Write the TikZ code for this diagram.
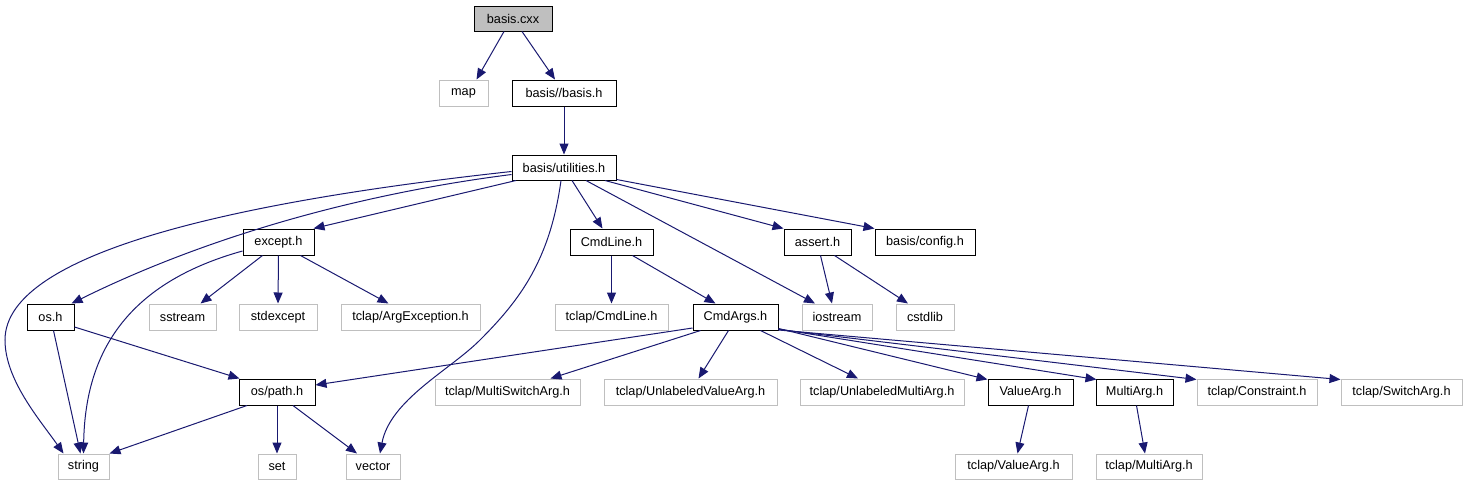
\documentclass[tikz,border=0pt]{standalone}
\usepackage{fontspec}
\setmainfont{Liberation Sans}
\usetikzlibrary{arrows.meta,calc}
\definecolor{edgeblue}{HTML}{191970}
\definecolor{sysgray}{HTML}{BFBFBF}
\begin{document}
\begin{tikzpicture}[x=1pt,y=-1pt,
  box/.style={draw=black,line width=1pt,inner sep=0pt,minimum height=26pt,
    font=\fontsize{12.7}{14}\selectfont},
  sys/.style={box,draw=sysgray},
  root/.style={box,fill=sysgray},
  e/.style={draw=edgeblue,line width=1pt,-{Triangle[length=11pt,width=9pt]}}]
\useasboundingbox (0,0) rectangle (1467,485);
% row 0
\node[root,minimum width=78pt,minimum height=25pt] (bc) at (513,18.5) {basis.cxx};
% row 1
\node[sys,minimum width=49pt] (map) at (463.5,93) {map};
\node[box,minimum width=104pt] (bb) at (564,93) {basis//basis.h};
% row 2
\node[box,minimum width=104pt,minimum height=25pt] (u) at (564,167.5) {basis/utilities.h};
% row 3
\node[box,minimum width=71pt] (exc) at (278.5,242) {except.h};
\node[box,minimum width=83pt] (cl) at (611.5,242) {CmdLine.h};
\node[box,minimum width=67pt] (as) at (817.5,242) {assert.h};
\node[box,minimum width=100pt] (cfg) at (925,242) {basis/config.h};
% row 4
\node[box,minimum width=47pt] (os) at (50.5,317) {os.h};
\node[sys,minimum width=67pt] (ss) at (182.5,317) {sstream};
\node[sys,minimum width=78pt] (se) at (278,317) {stdexcept};
\node[sys,minimum width=139pt] (ae) at (410.5,317) {tclap/ArgException.h};
\node[sys,minimum width=113pt] (tcl) at (611.5,317) {tclap/CmdLine.h};
\node[box,minimum width=85pt] (ca) at (735.5,317) {CmdArgs.h};
\node[sys,minimum width=70pt] (ios) at (837,317) {iostream};
\node[sys,minimum width=58pt] (cs) at (925,317) {cstdlib};
% row 5
\node[box,minimum width=76pt] (path) at (277,392) {os/path.h};
\node[sys,minimum width=145pt] (msa) at (507.5,392) {tclap/MultiSwitchArg.h};
\node[sys,minimum width=173pt] (uva) at (690.5,392) {tclap/UnlabeledValueArg.h};
\node[sys,minimum width=164pt] (uma) at (882,392) {tclap/UnlabeledMultiArg.h};
\node[box,minimum width=85pt] (va) at (1030.5,392) {ValueArg.h};
\node[box,minimum width=77pt] (ma) at (1134.5,392) {MultiArg.h};
\node[sys,minimum width=120pt] (con) at (1257,392) {tclap/Constraint.h};
\node[sys,minimum width=121pt] (swa) at (1401.5,392) {tclap/SwitchArg.h};
% row 6
\node[sys,minimum width=51pt,minimum height=25pt] (str) at (83.5,466.5) {string};
\node[sys,minimum width=38pt,minimum height=25pt] (set) at (277,466.5) {set};
\node[sys,minimum width=54pt,minimum height=25pt] (vec) at (373,466.5) {vector};
\node[sys,minimum width=117pt,minimum height=25pt] (tva) at (1013.5,466.5) {tclap/ValueArg.h};
\node[sys,minimum width=106pt,minimum height=25pt] (tma) at (1149,466.5) {tclap/MultiArg.h};
% edges
\draw[e] ($(bc.south)+(-9,0)$) -- ($(map.north)+(13,0)$);
\draw[e] ($(bc.south)+(9,0)$) -- ($(bb.north)+(-9,0)$);
\draw[e] (bb.south) -- (u.north);
\draw[e] ($(u.west)+(0,4)$) .. controls (250,200) and (5,250) .. (5,340)
  .. controls (5,380) and (40,420) .. ($(str.north)+(-20,0)$);
\draw[e] ($(u.west)+(0,7)$) .. controls (350,195) and (200,240) .. ($(os.north)+(21,0)$);
\draw[e] ($(u.south)+(-48,0)$) -- ($(exc.north east)+(-1,0)$);
\draw[e] ($(u.south)+(-3,0)$) .. controls (550,260) and (520,300) .. (480,340)
  .. controls (450,370) and (390,400) .. ($(vec.north)+(7,0)$);
\draw[e] ($(u.south)+(8,0)$) -- ($(cl.north)+(-9,0)$);
\draw[e] ($(u.south)+(22,0)$) -- ($(ios.north)+(-22,0)$);
\draw[e] ($(u.south)+(41,0)$) -- (as.north west);
\draw[e] ($(u.south east)+(0,-1)$) -- (cfg.north west);
\draw[e] ($(exc.west)+(0,9)$) .. controls (120,285) and (85,360) .. (str.north);
\draw[e] ($(exc.south)+(-16,0)$) -- ($(ss.north)+(18,0)$);
\draw[e] (exc.south) -- (se.north);
\draw[e] ($(exc.south)+(22,0)$) -- ($(ae.north)+(-22,0)$);
\draw[e] ($(os.south)+(3,0)$) -- ($(str.north)+(-3,0)$);
\draw[e] ($(os.east)+(0,10)$) -- ($(path.north west)+(1,0)$);
\draw[e] ($(path.south)+(-30,0)$) -- (str.north east);
\draw[e] (path.south) -- (set.north);
\draw[e] ($(path.south)+(16,0)$) -- ($(vec.north)+(-16,0)$);
\draw[e] (cl.south) -- (tcl.north);
\draw[e] ($(cl.south)+(21,0)$) -- ($(ca.north)+(-20,0)$);
\draw[e] ($(as.south)+(3,0)$) -- ($(ios.north)+(-5,0)$);
\draw[e] ($(as.south)+(17,0)$) -- ($(cs.north)+(-17,0)$);
\draw[e] ($(ca.west)+(0,11)$) -- ($(path.east)+(0,-7)$);
\draw[e] ($(ca.south)+(-35,0)$) -- ($(msa.north)+(43,0)$);
\draw[e] ($(ca.south)+(-7,0)$) -- ($(uva.north)+(8,0)$);
\draw[e] ($(ca.south)+(25,0)$) -- ($(uma.north)+(-24,0)$);
\draw[e] ($(ca.south east)+(0,-2)$) -- ($(va.north west)+(0,1)$);
\draw[e] ($(ca.south east)+(0,-1.5)$) -- ($(ma.north west)+(1,1)$);
\draw[e] ($(ca.south east)+(0,-1)$) -- ($(con.north west)+(0,1)$);
\draw[e] ($(ca.south east)+(0,-0.5)$) -- ($(swa.north west)+(0,1)$);
\draw[e] ($(va.south)+(-2,0)$) -- ($(tva.north)+(4,0)$);
\draw[e] ($(ma.south)+(2,0)$) -- ($(tma.north)+(-4,0)$);
\end{tikzpicture}
\end{document}
